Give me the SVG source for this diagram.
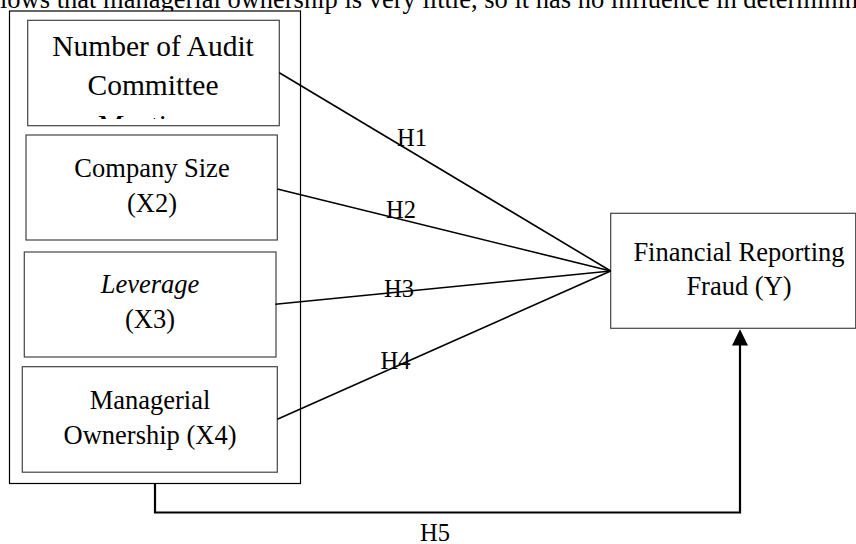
<svg xmlns="http://www.w3.org/2000/svg" width="856" height="544" viewBox="0 0 856 544">
<style>
text{font-family:"Liberation Serif","Times New Roman",serif;fill:#000;text-anchor:middle}
.t{font-size:26.5px}
.t1{font-size:29.5px}
.lbl{font-size:24.5px}
.box{fill:#fff;stroke:#444;stroke-width:1.2}
.outer{fill:#fff;stroke:#000;stroke-width:1.2}
.edge{stroke:#000;stroke-width:1.6;fill:none}
.h5{stroke:#000;stroke-width:2.2;fill:none}
</style>
<defs>
<clipPath id="c1"><rect x="28" y="20.5" width="251" height="98.5"/></clipPath>
</defs>
<text x="0" y="8" style="font-size:26.5px;text-anchor:start">lows that managerial ownership is very little, so it has no influence in determinin</text>
<g id="outer-group">
<rect class="outer" x="9.5" y="11" width="291" height="472.5"/>
</g>
<g id="node-x1">
<rect class="box" x="27.7" y="20.3" width="251.6" height="105.4"/>
<g clip-path="url(#c1)">
<text class="t1" x="153" y="56">Number of Audit</text>
<text class="t1" x="153" y="95">Committee</text>
<text class="t1" x="153" y="135">Meetings</text>
</g>
</g>
<g id="node-x2">
<rect class="box" x="26" y="135" width="251.3" height="105"/>
<text class="t" x="152" y="177">Company Size</text>
<text class="t" x="152" y="211.5">(X2)</text>
</g>
<g id="node-x3">
<rect class="box" x="24.3" y="252" width="251.7" height="105"/>
<text class="t" x="150" y="293" font-style="italic">Leverage</text>
<text class="t" x="150" y="327.5">(X3)</text>
</g>
<g id="node-x4">
<rect class="box" x="22.3" y="366.7" width="255" height="105.5"/>
<text class="t" x="150" y="409">Managerial</text>
<text class="t" x="150" y="444">Ownership (X4)</text>
</g>
<g id="node-y">
<rect class="box" x="610.7" y="213.3" width="245" height="115"/>
<text class="t" x="739" y="261">Financial Reporting</text>
<text class="t" x="739" y="295">Fraud (Y)</text>
</g>
<g id="connectors">
<line class="edge" x1="279.3" y1="72.7" x2="610.7" y2="271"/>
<line class="edge" x1="277.3" y1="189" x2="610.7" y2="271"/>
<line class="edge" x1="275.3" y1="304.3" x2="610.7" y2="271"/>
<line class="edge" x1="277.3" y1="419.3" x2="610.7" y2="271"/>
<polyline class="h5" points="155,484 155,512.5 740,512.5 740,345"/>
<polygon points="732,345.5 740,329.2 748,345.5" fill="#000"/>
<text class="lbl" x="412" y="146">H1</text>
<text class="lbl" x="401" y="218.3">H2</text>
<text class="lbl" x="399" y="296.7">H3</text>
<text class="lbl" x="395.5" y="369.3">H4</text>
<text class="lbl" x="435" y="541">H5</text>
</g>
</svg>
